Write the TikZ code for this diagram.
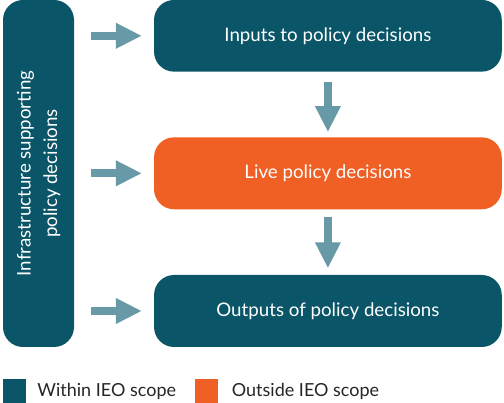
\documentclass[tikz,border=0pt]{standalone}
\usepackage{fontspec}
\setmainfont{Lato}
\usetikzlibrary{arrows.meta,calc}
\definecolor{teal}{HTML}{0A5567}
\definecolor{orng}{HTML}{F05F24}
\definecolor{arrc}{HTML}{6799A7}
\begin{document}
\begin{tikzpicture}[x=1pt,y=-1pt,
  box/.style={rounded corners=20pt, inner sep=0pt, text=white, font=\fontsize{18.7}{26.5}\selectfont},
  arr/.style={draw=arrc, line width=8pt, -{Triangle[width=24pt,length=26pt]}},
  legsq/.style={minimum size=23.3pt, inner sep=0pt},
  legtxt/.style={anchor=base west, inner sep=0pt, font=\fontsize{18}{22}\selectfont, text=black!85}]
\useasboundingbox (0,0) rectangle (504,403);
\node[box, fill=teal, minimum width=71pt, minimum height=347pt] (lb) at (38.5,173.5)
  {\rotatebox{90}{\begin{tabular}{@{}c@{}}Infrastructure supporting\\policy decisions\end{tabular}}};
\node[box, fill=teal, minimum width=347.7pt, minimum height=71.7pt] (top) at (327.9,35.8) {Inputs to policy decisions};
\node[box, fill=orng, minimum width=347.7pt, minimum height=72pt] (mid) at (327.9,173.3) {Live policy decisions};
\node[box, fill=teal, minimum width=347.7pt, minimum height=72pt] (bot) at (327.9,311) {Outputs of policy decisions};
\draw[arr] ([xshift=17pt]lb.east |- top.west) -- ([xshift=-12pt]top.west);
\draw[arr] ([xshift=17pt]lb.east |- mid.west) -- ([xshift=-12pt]mid.west);
\draw[arr] ([xshift=17pt]lb.east |- bot.west) -- ([xshift=-12pt]bot.west);
\draw[arr] ([yshift=-10pt]top.south) -- ([yshift=5pt]mid.north);
\draw[arr] ([yshift=-8pt]mid.south) -- ([yshift=6.5pt]bot.north);
\node[legsq, fill=teal] (lq1) at (14.4,391) {};
\node[legtxt] (lt1) at (37.3,396.7) {Within IEO scope};
\node[legsq, fill=orng] (lq2) at (206.7,391) {};
\node[legtxt] (lt2) at (231.7,396.7) {Outside IEO scope};
\end{tikzpicture}
\end{document}
